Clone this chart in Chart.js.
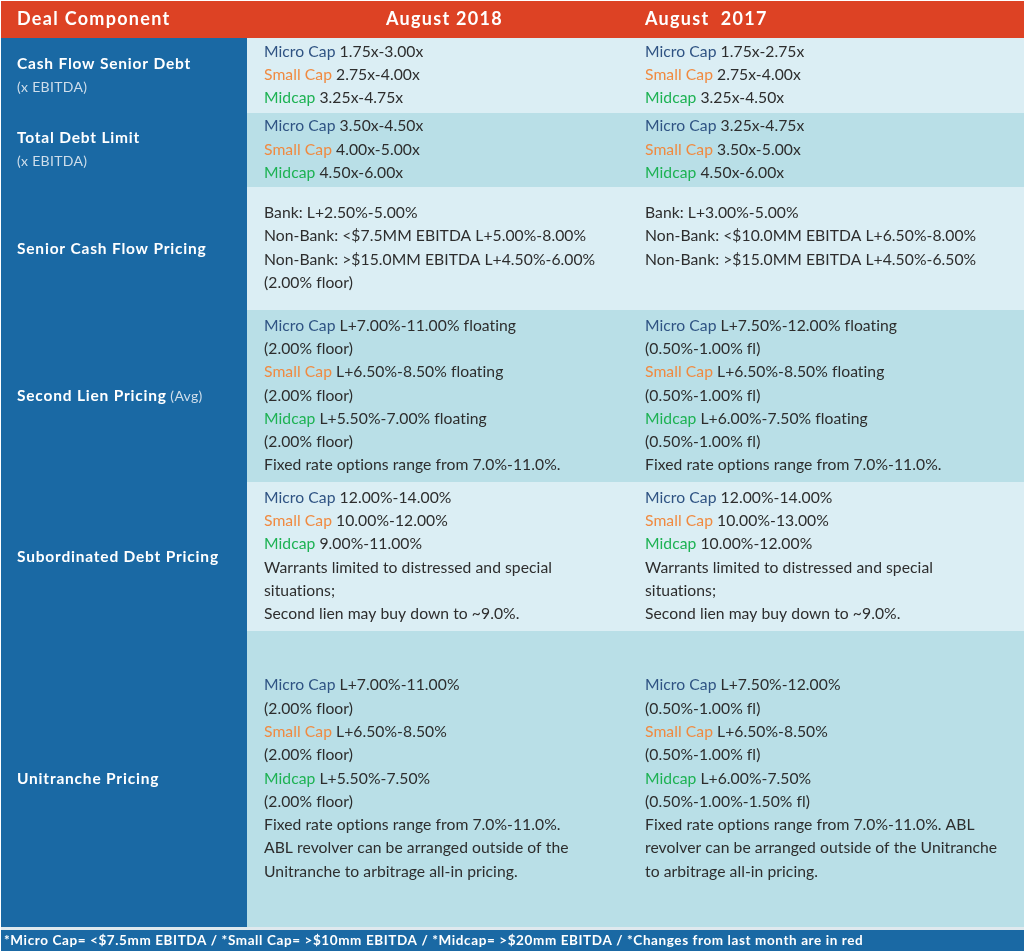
<!DOCTYPE html>
<html>
<head>
<meta charset="utf-8">
<script src="https://cdn.jsdelivr.net/npm/chart.js@4.4.0/dist/chart.umd.min.js"></script>
<style>
  html, body { margin: 0; padding: 0; background: #fff; }
  #wrap { position: relative; width: 1024px; height: 951px; }
</style>
</head>
<body>
<div id="wrap"><canvas id="dealTable"></canvas></div>
<script>
// ---- data ----
const columnHeaders = ['Deal Component', 'August 2018', 'August  2017'];

const rowLabels = [
  'Cash Flow Senior Debt',
  'Total Debt Limit',
  'Senior Cash Flow Pricing',
  'Second Lien Pricing',
  'Subordinated Debt Pricing',
  'Unitranche Pricing'
];
const rowNotes = ['(x EBITDA)', '(x EBITDA)', '', '(Avg)', '', ''];
const rowNoteInline = [false, false, false, true, false, false];

const aug2018 = [
  ['Micro Cap 1.75x-3.00x', 'Small Cap 2.75x-4.00x', 'Midcap 3.25x-4.75x'],
  ['Micro Cap 3.50x-4.50x', 'Small Cap 4.00x-5.00x', 'Midcap 4.50x-6.00x'],
  ['Bank: L+2.50%-5.00%', 'Non-Bank: <$7.5MM EBITDA L+5.00%-8.00%',
   'Non-Bank: >$15.0MM EBITDA L+4.50%-6.00%', '(2.00% floor)'],
  ['Micro Cap L+7.00%-11.00% floating', '(2.00% floor)',
   'Small Cap L+6.50%-8.50% floating', '(2.00% floor)',
   'Midcap L+5.50%-7.00% floating', '(2.00% floor)',
   'Fixed rate options range from 7.0%-11.0%.'],
  ['Micro Cap 12.00%-14.00%', 'Small Cap 10.00%-12.00%', 'Midcap 9.00%-11.00%',
   'Warrants limited to distressed and special', 'situations;',
   'Second lien may buy down to ~9.0%.'],
  ['Micro Cap L+7.00%-11.00%', '(2.00% floor)', 'Small Cap L+6.50%-8.50%', '(2.00% floor)',
   'Midcap L+5.50%-7.50%', '(2.00% floor)', 'Fixed rate options range from 7.0%-11.0%.',
   'ABL revolver can be arranged outside of the', 'Unitranche to arbitrage all-in pricing.']
];

const aug2017 = [
  ['Micro Cap 1.75x-2.75x', 'Small Cap 2.75x-4.00x', 'Midcap 3.25x-4.50x'],
  ['Micro Cap 3.25x-4.75x', 'Small Cap 3.50x-5.00x', 'Midcap 4.50x-6.00x'],
  ['Bank: L+3.00%-5.00%', 'Non-Bank: <$10.0MM EBITDA L+6.50%-8.00%',
   'Non-Bank: >$15.0MM EBITDA L+4.50%-6.50%'],
  ['Micro Cap L+7.50%-12.00% floating', '(0.50%-1.00% fl)',
   'Small Cap L+6.50%-8.50% floating', '(0.50%-1.00% fl)',
   'Midcap L+6.00%-7.50% floating', '(0.50%-1.00% fl)',
   'Fixed rate options range from 7.0%-11.0%.'],
  ['Micro Cap 12.00%-14.00%', 'Small Cap 10.00%-13.00%', 'Midcap 10.00%-12.00%',
   'Warrants limited to distressed and special', 'situations;',
   'Second lien may buy down to ~9.0%.'],
  ['Micro Cap L+7.50%-12.00%', '(0.50%-1.00% fl)', 'Small Cap L+6.50%-8.50%', '(0.50%-1.00% fl)',
   'Midcap L+6.00%-7.50%', '(0.50%-1.00%-1.50% fl)',
   'Fixed rate options range from 7.0%-11.0%. ABL',
   'revolver can be arranged outside of the Unitranche', 'to arbitrage all-in pricing.']
];

const capNames = ['Micro Cap', 'Small Cap', 'Midcap'];

const footnote = '*Micro Cap= <$7.5mm EBITDA / *Small Cap= >$10mm EBITDA / *Midcap= >$20mm EBITDA / *Changes from last month are in red';

// ---- layout / style ----
const W = 1024, H = 951;
const tableLeft = 1;
const headerTop = 1, headerH = 37;
const rowHeights = [75, 74, 123, 172, 149, 296];
const footerTop = 930, footerH = 21;
const colEdges = [tableLeft, 247, 638, W];
const textX = [17, 264, 645];
const lineH = 23.3;

const colors = {
  header: '#dd4224',
  blue: '#1a69a4',
  light: '#dbeef4',
  mid: '#b9dfe7',
  text: '#2d2d2d',
  note: '#cfdeeb',
  sep: '#dfe9ee',
  cap: ['#2f5383', '#f08a40', '#1db253']
};
const FONT = 'Lato, "Noto Sans", sans-serif';

function segments(line) {
  for (let i = 0; i < capNames.length; i++) {
    if (line.startsWith(capNames[i])) {
      return [[capNames[i], colors.cap[i]], [line.slice(capNames[i].length), colors.text]];
    }
  }
  return [[line, colors.text]];
}

const tablePlugin = {
  id: 'dealTable',
  beforeDraw(chart) {
    const { ctx, scales: { x, y } } = chart;
    const px = v => x.getPixelForValue(v);
    const py = v => y.getPixelForValue(v);
    const rect = (x0, y0, x1, y1, c) => {
      ctx.fillStyle = c;
      ctx.fillRect(px(x0), py(y0), px(x1) - px(x0), py(y1) - py(y0));
    };

    ctx.save();
    ctx.fillStyle = '#fff';
    ctx.fillRect(0, 0, chart.width, chart.height);

    // header
    rect(tableLeft, headerTop, W, headerTop + headerH, colors.header);
    ctx.textBaseline = 'middle';
    ctx.fillStyle = '#fff';
    ctx.font = 'bold 18px ' + FONT;
    ctx.letterSpacing = '1.3px';
    const hy = py(headerTop + headerH / 2);
    ctx.textAlign = 'left';
    ctx.fillText(columnHeaders[0], px(textX[0]), hy);
    ctx.textAlign = 'center';
    ctx.fillText(columnHeaders[1], px((colEdges[1] + colEdges[2]) / 2) + 2, hy);
    ctx.textAlign = 'left';
    ctx.fillText(columnHeaders[2], px(textX[2]), hy);

    // body rows
    let top = headerTop + headerH;
    rowHeights.forEach((h, r) => {
      const bottom = top + h;
      rect(colEdges[0], top, colEdges[1], bottom, colors.blue);
      rect(colEdges[1], top, W, bottom, r % 2 === 0 ? colors.light : colors.mid);
      const cy = top + h / 2;

      // label column
      const hasNoteLine = rowNotes[r] && !rowNoteInline[r];
      const nl = hasNoteLine ? 2 : 1;
      const ly0 = cy - (nl - 1) * lineH / 2;
      ctx.textAlign = 'left';
      ctx.font = 'bold 15.5px ' + FONT;
      ctx.letterSpacing = '0.8px';
      ctx.fillStyle = '#fff';
      ctx.fillText(rowLabels[r], px(textX[0]), py(ly0));
      if (rowNotes[r]) {
        const w = ctx.measureText(rowLabels[r] + ' ').width;
        ctx.font = '14px ' + FONT;
        ctx.letterSpacing = '0.3px';
        ctx.fillStyle = colors.note;
        if (rowNoteInline[r]) ctx.fillText(rowNotes[r], px(textX[0]) + w - 1, py(ly0));
        else ctx.fillText(rowNotes[r], px(textX[0]), py(ly0 + lineH));
      }

      // value columns
      const n = Math.max(aug2018[r].length, aug2017[r].length);
      const vy0 = cy - (n - 1) * lineH / 2 - 0.5;
      ctx.font = '15.7px ' + FONT;
      ctx.letterSpacing = '0.05px';
      [aug2018[r], aug2017[r]].forEach((lines, c) => {
        lines.forEach((line, i) => {
          let xx = px(textX[c + 1]);
          segments(line).forEach(([t, col]) => {
            ctx.fillStyle = col;
            ctx.fillText(t, xx, py(vy0 + i * lineH));
            xx += ctx.measureText(t).width;
          });
        });
      });
      top = bottom;
    });

    // separator + footer
    rect(tableLeft, top, W, footerTop, colors.sep);
    rect(tableLeft, footerTop, W, footerTop + footerH, colors.blue);
    ctx.font = 'bold 13.5px ' + FONT;
    ctx.letterSpacing = '0.6px';
    ctx.fillStyle = '#fff';
    ctx.fillText(footnote, px(4), py(footerTop + footerH / 2));
    ctx.restore();
  }
};

new Chart(document.getElementById('dealTable'), {
  type: 'scatter',
  data: { datasets: [{ data: [] }] },
  options: {
    responsive: true,
    maintainAspectRatio: false,
    animation: false,
    layout: { padding: 0 },
    plugins: { legend: { display: false }, tooltip: { enabled: false } },
    scales: {
      x: { type: 'linear', min: 0, max: W, display: false },
      y: { type: 'linear', min: 0, max: H, reverse: true, display: false }
    }
  },
  plugins: [tablePlugin]
});
</script>
</body>
</html>
